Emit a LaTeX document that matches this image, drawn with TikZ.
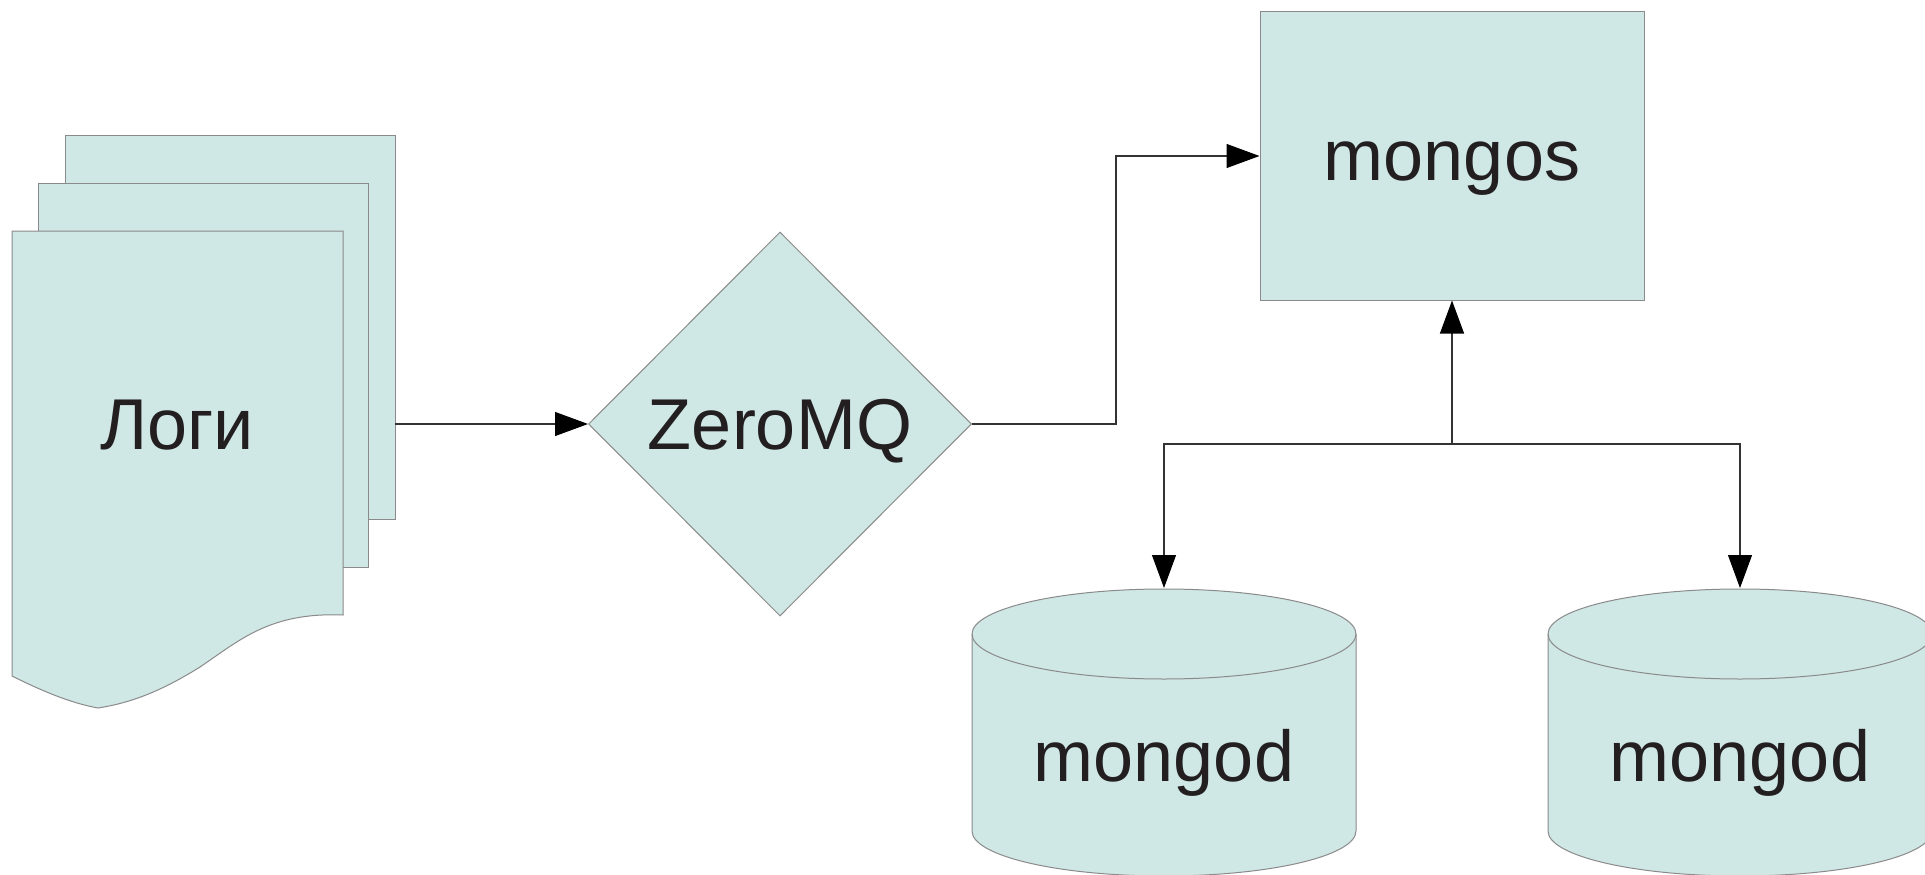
\documentclass[tikz,border=0pt]{standalone}
\usepackage{fontspec}
\setmainfont{Liberation Sans}
\usetikzlibrary{arrows.meta,shapes.geometric}

\definecolor{shapefill}{HTML}{CFE7E5}
\definecolor{shapeline}{HTML}{8A8A8A}
\definecolor{wire}{HTML}{333333}
\definecolor{ink}{HTML}{231F20}

\tikzset{
  shapestyle/.style={fill=shapefill, draw=shapeline, line width=1pt},
  labeltext/.style={anchor=base, inner sep=0pt, text=ink,
    font=\fontsize{72}{86}\selectfont},
  wireline/.style={draw=wire, line width=1.1pt},
  flow/.style={wireline,
    -{Triangle[length=33pt,width=24pt,color=black,fill=black]}},
}

\begin{document}
\begin{tikzpicture}[x=1pt,y=1pt]
\useasboundingbox (0,0) rectangle (1925,-875);

% stacked log documents
\path[shapestyle] (65,-135) rectangle (395,-519);
\path[shapestyle] (38,-183) rectangle (368,-567);
\path[shapestyle] (12,-231) -- (343,-231) -- (343,-615)
  .. controls (270,-612) and (240,-640) .. (200,-667)
  .. controls (160,-692) and (130,-703) .. (98,-708)
  .. controls (70,-703) and (40,-690) .. (12,-676) -- cycle;
\node[labeltext] (logs) at (177,-449) {Логи};
\coordinate (logsout) at (395,-424);

% message queue
\node[shapestyle, diamond, shape aspect=1, inner sep=0pt,
      minimum width=383pt, minimum height=384pt] (zmq) at (780,-424) {};
\node[labeltext] (zmqtext) at (780,-449) {ZeroMQ};

% router
\node[shapestyle, rectangle, inner sep=0pt,
      minimum width=384pt, minimum height=288pt] (mongos) at (1452,-156) {};
\node[labeltext] (mongostext) at (1452,-180) {mongos};

% shard servers (cylinders)
\foreach \cx/\nm in {1164/dbA, 1740/dbB}{
  \path[shapestyle] (\cx-192,-634) -- (\cx-192,-831)
    arc[start angle=180, end angle=360, x radius=192, y radius=45]
    -- (\cx+192,-634)
    arc[start angle=0, end angle=180, x radius=192, y radius=45] -- cycle;
  \draw[draw=shapeline, line width=1pt] (\cx-192,-634)
    arc[start angle=180, end angle=360, x radius=192, y radius=45];
  \node[labeltext] (\nm) at (\cx,-781) {mongod};
  \coordinate (\nm top) at (\cx,-588);
}

% connectors
\coordinate (split) at (1452,-444);
\draw[flow] (logsout) -- (zmq.west);
\draw[flow] (zmq.east) -- (1116,-424) |- (mongos.west);
\draw[flow] (split) -- (mongos.south);
\draw[flow] (split) -| (dbAtop);
\draw[flow] (split) -| (dbBtop);
\end{tikzpicture}
\end{document}
